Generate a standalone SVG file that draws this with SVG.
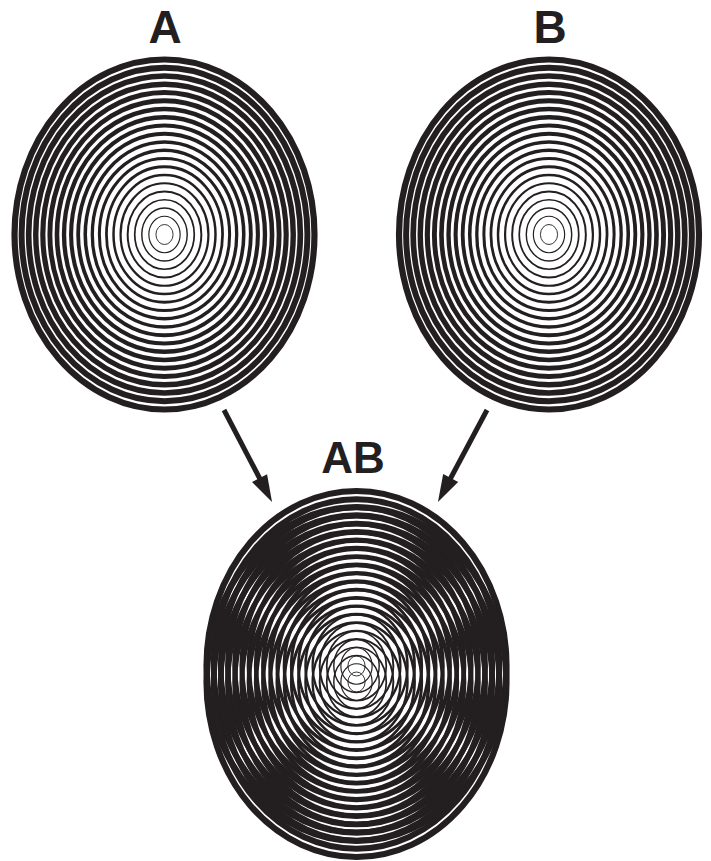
<svg xmlns="http://www.w3.org/2000/svg" xmlns:xlink="http://www.w3.org/1999/xlink" width="711" height="861" viewBox="0 0 711 861">
<style>
.zp ellipse{fill:none;stroke:#231f20}
.lbl{font-family:"Liberation Sans",Arial,sans-serif;font-weight:bold;fill:#231f20;text-anchor:middle}
.arr{stroke:#231f20;stroke-width:5;fill:none}
</style>
<defs>
<marker id="ah" markerUnits="userSpaceOnUse" markerWidth="27" markerHeight="18" refX="1" refY="8.5" orient="auto" overflow="visible">
<path d="M0,0 L27,8.5 L0,17 Z" fill="#231f20"/>
</marker>
<g id="zp" class="zp">
<ellipse rx="8.57" ry="10" stroke-width="0.9"/>
<ellipse rx="15.64" ry="18.25" stroke-width="1.17"/>
<ellipse rx="22.71" ry="26.5" stroke-width="1.43"/>
<ellipse rx="29.78" ry="34.75" stroke-width="1.7"/>
<ellipse rx="36.85" ry="43" stroke-width="1.96"/>
<ellipse rx="43.92" ry="51.25" stroke-width="2.23"/>
<ellipse rx="50.99" ry="59.5" stroke-width="2.49"/>
<ellipse rx="58.06" ry="67.75" stroke-width="2.76"/>
<ellipse rx="65.13" ry="76" stroke-width="3.02"/>
<ellipse rx="72.2" ry="84.25" stroke-width="3.29"/>
<ellipse rx="79.27" ry="92.5" stroke-width="3.55"/>
<ellipse rx="86.34" ry="100.75" stroke-width="3.82"/>
<ellipse rx="93.41" ry="109" stroke-width="4.08"/>
<ellipse rx="100.48" ry="117.25" stroke-width="4.35"/>
<ellipse rx="107.55" ry="125.5" stroke-width="4.61"/>
<ellipse rx="114.62" ry="133.75" stroke-width="4.88"/>
<ellipse rx="121.69" ry="142" stroke-width="5.14"/>
<ellipse rx="128.76" ry="150.25" stroke-width="5.41"/>
<ellipse rx="135.83" ry="158.5" stroke-width="5.67"/>
<ellipse rx="142.9" ry="166.75" stroke-width="5.94"/>
<ellipse rx="149.98" ry="175" stroke-width="6.2"/>
</g>
</defs>
<rect width="711" height="861" fill="#ffffff"/>
<g id="nodeA">
<text class="lbl" x="165" y="43" font-size="46">A</text>
<use xlink:href="#zp" href="#zp" transform="translate(164.5,234.5)"/>
</g>
<g id="nodeB">
<text class="lbl" x="550" y="43" font-size="46">B</text>
<use xlink:href="#zp" href="#zp" transform="translate(549,234.5)"/>
</g>
<g id="nodeAB">
<text class="lbl" x="353" y="473" font-size="44">AB</text>
<use xlink:href="#zp" href="#zp" transform="translate(356.5,666)"/>
<use xlink:href="#zp" href="#zp" transform="translate(356.5,682)"/>
</g>
<g id="connectors">
<line class="arr" x1="224" y1="410" x2="260" y2="479" marker-end="url(#ah)"/>
<line class="arr" x1="487" y1="410" x2="450.2" y2="479" marker-end="url(#ah)"/>
</g>
</svg>
